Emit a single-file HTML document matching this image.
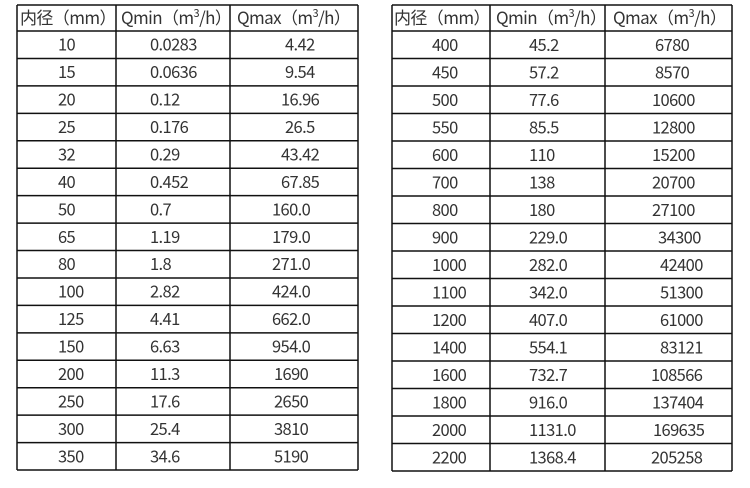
<!DOCTYPE html>
<html><head><meta charset="utf-8"><style>
html,body{margin:0;padding:0;background:#fff;}
svg text{font-family:"Noto Sans CJK SC",sans-serif;font-size:16.5px;fill:#333;font-weight:400;letter-spacing:-0.6px;}
</style></head><body>
<svg width="750" height="483" xmlns="http://www.w3.org/2000/svg" id="s"></svg>
<script>
const s=document.getElementById('s');const NS='http://www.w3.org/2000/svg';
function L(x1,y1,x2,y2){const l=document.createElementNS(NS,'line');l.setAttribute('x1',x1);l.setAttribute('y1',y1);l.setAttribute('x2',x2);l.setAttribute('y2',y2);l.setAttribute('stroke','#111');l.setAttribute('stroke-width','1.5');s.appendChild(l);}
function T(x,y,t,fs){const e=document.createElementNS(NS,'text');e.setAttribute('x',x);e.setAttribute('y',y);if(fs)e.style.fontSize=fs+'px';e.innerHTML=t;s.appendChild(e);}
function table(xs,top,hb,bot,hx,rows,cx){
 const n=rows.length,rh=(bot-hb)/n;
 L(xs[0],top,xs[3],top);L(xs[0],hb,xs[3],hb);
 for(let i=1;i<=n;i++)L(xs[0],hb+rh*i,xs[3],hb+rh*i);
 xs.forEach(x=>L(x,top,x,bot));
 const hy=(top+hb)/2+6;
 T(hx[0],hy,'内径（mm）',17);T(hx[1],hy,'Qmin（m<tspan font-size="11" dy="-7">3</tspan><tspan dy="7">/h）</tspan>',17);
 T(hx[2],hy,'Qmax（m<tspan font-size="11" dy="-7">3</tspan><tspan dy="7">/h）</tspan>',17);
 rows.forEach((r,i)=>{const y=hb+rh*i+rh/2+6;T(cx[0],y,r[0]);T(cx[1],y,r[1]);T(r[3],y,r[2]);});
}
table([17,116,230,358],5,31,470,[20,121,237],[
['10','0.0283','4.42',285],['15','0.0636','9.54',285],['20','0.12','16.96',281],['25','0.176','26.5',285],
['32','0.29','43.42',281],['40','0.452','67.85',281],['50','0.7','160.0',272],['65','1.19','179.0',272],
['80','1.8','271.0',272],['100','2.82','424.0',272],['125','4.41','662.0',272],['150','6.63','954.0',272],
['200','11.3','1690',274],['250','17.6','2650',274],['300','25.4','3810',274],['350','34.6','5190',274]],[58,150]);
table([392,490,605,732],5,31,471,[394,496,613],[
['400','45.2','6780',655],['450','57.2','8570',655],['500','77.6','10600',652],['550','85.5','12800',652],
['600','110','15200',652],['700','138','20700',652],['800','180','27100',652],['900','229.0','34300',658],
['1000','282.0','42400',660],['1100','342.0','51300',660],['1200','407.0','61000',660],['1400','554.1','83121',660],
['1600','732.7','108566',651],['1800','916.0','137404',652],['2000','1131.0','169635',653],['2200','1368.4','205258',651]],[432,529]);
</script>
</body></html>
